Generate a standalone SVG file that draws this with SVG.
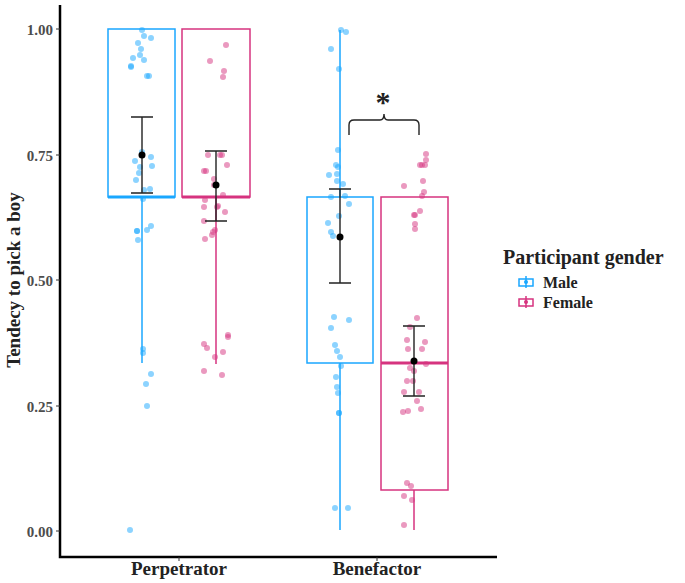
<svg xmlns="http://www.w3.org/2000/svg" width="685" height="583" viewBox="0 0 685 583">
<style>
text{font-family:"Liberation Serif",serif;font-weight:bold;fill:#222}
.tk{font-size:15px;fill:#4d4d4d;text-anchor:end}
.m{fill:#1AA7FF;fill-opacity:0.5}
.f{fill:#D6337F;fill-opacity:0.5}
.bm{fill:none;stroke:#1AA7FF;stroke-width:1.5}
.bf{fill:none;stroke:#D6337F;stroke-width:1.5}
.eb{stroke:#222;stroke-width:1.4;fill:none}
</style>
<rect width="685" height="583" fill="#fff"/>
<g id="axes" stroke="#000" stroke-width="2.5" fill="none">
<path d="M60,5V557H497"/>
</g>
<g id="yticks" stroke="#333" stroke-width="1">
<path d="M56,29H60M56,155H60M56,280H60M56,406H60M56,531H60M179,557V561M377,557V561"/>
</g>
<g id="ylabels">
<text class="tk" x="53" y="35">1.00</text>
<text class="tk" x="53" y="161">0.75</text>
<text class="tk" x="53" y="286">0.50</text>
<text class="tk" x="53" y="412">0.25</text>
<text class="tk" x="53" y="537">0.00</text>
</g>
<text x="179" y="575" font-size="19" text-anchor="middle">Perpetrator</text>
<text x="377" y="575" font-size="19" text-anchor="middle">Benefactor</text>
<text transform="translate(20,280) rotate(-90)" font-size="19" text-anchor="middle">Tendecy to pick a boy</text>
<g id="box-perp-male">
<path class="bm" d="M142,197V363"/>
<rect class="bm" x="108" y="29" width="67" height="168"/>
<path d="M108,197H175" stroke="#1AA7FF" stroke-width="3"/>
</g>
<g id="box-perp-female">
<path class="bf" d="M216,197V364"/>
<rect class="bf" x="182" y="29" width="68" height="168"/>
<path d="M182,197H250" stroke="#D6337F" stroke-width="3"/>
</g>
<g id="box-ben-male">
<path class="bm" d="M340,30V197M340,363V530"/>
<rect class="bm" x="307" y="197" width="66" height="166"/>
</g>
<g id="box-ben-female">
<path class="bf" d="M414,490V530"/>
<rect class="bf" x="381" y="197" width="67" height="293"/>
<path d="M381,363H448" stroke="#D6337F" stroke-width="3"/>
</g>
<g id="points">
<g class="m">
<circle cx="142" cy="30" r="3"/><circle cx="144" cy="36" r="3"/><circle cx="151" cy="38" r="3"/><circle cx="138" cy="43" r="3"/><circle cx="141" cy="49" r="3"/><circle cx="140" cy="55" r="3"/><circle cx="133" cy="58" r="3"/><circle cx="144" cy="60" r="3"/><circle cx="131" cy="67" r="3"/><circle cx="131" cy="66" r="3"/><circle cx="147" cy="76" r="3"/><circle cx="149" cy="76" r="3"/><circle cx="142" cy="152" r="3"/><circle cx="135" cy="161" r="3"/><circle cx="151" cy="157" r="3"/><circle cx="140" cy="167" r="3"/><circle cx="152" cy="166" r="3"/><circle cx="136" cy="180" r="3"/><circle cx="139" cy="173" r="3"/><circle cx="144" cy="190" r="3"/><circle cx="150" cy="189" r="3"/><circle cx="143" cy="199" r="3"/><circle cx="137" cy="231" r="3"/><circle cx="137" cy="231" r="3"/><circle cx="147" cy="230" r="3"/><circle cx="151" cy="226" r="3"/><circle cx="138" cy="240" r="3"/><circle cx="143" cy="349" r="3"/><circle cx="143" cy="353" r="3"/><circle cx="151" cy="374" r="3"/><circle cx="146" cy="384" r="3"/><circle cx="147" cy="406" r="3"/><circle cx="130" cy="530" r="3"/>
<circle cx="341" cy="30" r="3"/><circle cx="346" cy="32" r="3"/><circle cx="331" cy="49" r="3"/><circle cx="339" cy="69" r="3"/><circle cx="338" cy="150" r="3"/><circle cx="336" cy="165" r="3"/><circle cx="338" cy="167" r="3"/><circle cx="329" cy="175" r="3"/><circle cx="337" cy="174" r="3"/><circle cx="337" cy="181" r="3"/><circle cx="343" cy="184" r="3"/><circle cx="331" cy="197" r="3"/><circle cx="345" cy="196" r="3"/><circle cx="349" cy="204" r="3"/><circle cx="339" cy="216" r="3"/><circle cx="328" cy="223" r="3"/><circle cx="331" cy="232" r="3"/><circle cx="333" cy="236" r="3"/><circle cx="334" cy="317" r="3"/><circle cx="349" cy="320" r="3"/><circle cx="331" cy="328" r="3"/><circle cx="335" cy="345" r="3"/><circle cx="337" cy="351" r="3"/><circle cx="340" cy="357" r="3"/><circle cx="341" cy="366" r="3"/><circle cx="336" cy="377" r="3"/><circle cx="337" cy="387" r="3"/><circle cx="338" cy="393" r="3"/><circle cx="339" cy="413" r="3"/><circle cx="339" cy="413" r="3"/><circle cx="335" cy="508" r="3"/><circle cx="348" cy="508" r="3"/>
</g>
<g class="f">
<circle cx="226" cy="45" r="3"/><circle cx="210" cy="61" r="3"/><circle cx="224" cy="71" r="3"/><circle cx="223" cy="77" r="3"/><circle cx="208" cy="155" r="3"/><circle cx="220" cy="155" r="3"/><circle cx="222" cy="155" r="3"/><circle cx="227" cy="165" r="3"/><circle cx="204" cy="171" r="3"/><circle cx="206" cy="171" r="3"/><circle cx="214" cy="179" r="3"/><circle cx="214" cy="185" r="3"/><circle cx="223" cy="195" r="3"/><circle cx="205" cy="200" r="3"/><circle cx="204" cy="207" r="3"/><circle cx="218" cy="206" r="3"/><circle cx="225" cy="212" r="3"/><circle cx="217" cy="207" r="3"/><circle cx="204" cy="221" r="3"/><circle cx="213" cy="232" r="3"/><circle cx="215" cy="230" r="3"/><circle cx="205" cy="239" r="3"/><circle cx="212" cy="235" r="3"/><circle cx="204" cy="344" r="3"/><circle cx="207" cy="348" r="3"/><circle cx="215" cy="357" r="3"/><circle cx="228" cy="335" r="3"/><circle cx="228" cy="337" r="3"/><circle cx="223" cy="352" r="3"/><circle cx="204" cy="371" r="3"/><circle cx="222" cy="375" r="3"/>
<circle cx="426" cy="154" r="3"/><circle cx="426" cy="160" r="3"/><circle cx="420" cy="165" r="3"/><circle cx="422" cy="165" r="3"/><circle cx="425" cy="165" r="3"/><circle cx="404" cy="186" r="3"/><circle cx="423" cy="181" r="3"/><circle cx="424" cy="192" r="3"/><circle cx="422" cy="196" r="3"/><circle cx="420" cy="211" r="3"/><circle cx="414" cy="215" r="3"/><circle cx="415" cy="215" r="3"/><circle cx="415" cy="224" r="3"/><circle cx="415" cy="229" r="3"/><circle cx="417" cy="318" r="3"/><circle cx="410" cy="327" r="3"/><circle cx="407" cy="340" r="3"/><circle cx="408" cy="349" r="3"/><circle cx="425" cy="342" r="3"/><circle cx="422" cy="349" r="3"/><circle cx="410" cy="368" r="3"/><circle cx="426" cy="364" r="3"/><circle cx="407" cy="381" r="3"/><circle cx="413" cy="381" r="3"/><circle cx="414" cy="371" r="3"/><circle cx="404" cy="392" r="3"/><circle cx="419" cy="392" r="3"/><circle cx="417" cy="401" r="3"/><circle cx="403" cy="412" r="3"/><circle cx="408" cy="411" r="3"/><circle cx="421" cy="409" r="3"/><circle cx="407" cy="483" r="3"/><circle cx="411" cy="486" r="3"/><circle cx="404" cy="496" r="3"/><circle cx="412" cy="500" r="3"/><circle cx="404" cy="525" r="3"/>
</g>
</g>
<g id="errorbars">
<path class="eb" d="M142,117V193M131,117H153M131,193H153"/><circle cx="142" cy="155" r="3.5"/>
<path class="eb" d="M216,151V221M205,151H227M205,221H227"/><circle cx="216" cy="185" r="3.5"/>
<path class="eb" d="M340,189V283M329,189H351M329,283H351"/><circle cx="340" cy="237" r="3.5"/>
<path class="eb" d="M414,326V396M403,326H425M403,396H425"/><circle cx="414" cy="361" r="3.5"/>
</g>
<g id="significance">
<path class="eb" stroke-width="1.8" d="M349,135V125Q349,120 354,120H380Q384,120 384,114Q384,120 388,120H414Q419,120 419,125V135"/>
<text x="383" y="112" font-size="30" text-anchor="middle" font-family="Liberation Sans,sans-serif" fill="#000">*</text>
</g>
<g id="legend">
<text x="503" y="264" font-size="20">Participant gender</text>
<g id="legend-male">
<path class="bm" d="M526,276V288"/><rect class="bm" x="519" y="279" width="14" height="7" fill="#fff"/><circle cx="526" cy="282" r="2" fill="#1AA7FF"/>
<text x="543" y="288" font-size="16">Male</text>
</g>
<g id="legend-female">
<path class="bf" d="M526,296V308"/><rect class="bf" x="519" y="299" width="14" height="7" fill="#fff"/><circle cx="526" cy="302" r="2" fill="#D6337F"/>
<text x="543" y="308" font-size="16">Female</text>
</g>
</g>
</svg>
